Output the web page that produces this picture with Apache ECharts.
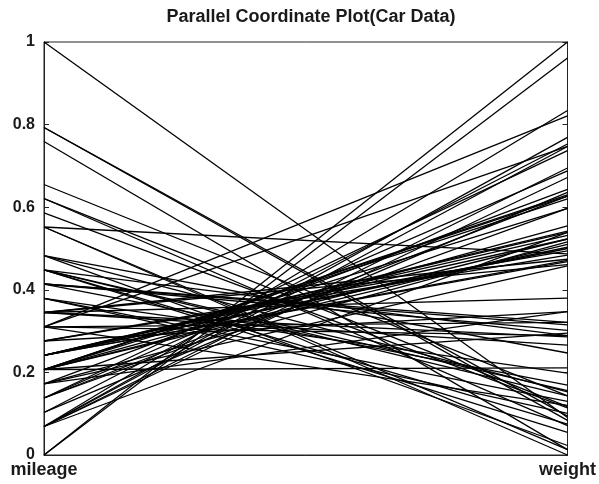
<!DOCTYPE html>
<html>
<head>
<meta charset="utf-8">
<script src="https://cdn.jsdelivr.net/npm/echarts@6/dist/echarts.min.js"></script>
<style>
  html, body { margin: 0; padding: 0; background: #fff; }
  #container { width: 599px; height: 484px; }
</style>
</head>
<body>
<div id="container"></div>
<script>
// axes of the parallel plot
var axisNames = ['mileage', 'weight'];
var yTicks = [0, 0.2, 0.4, 0.6, 0.8, 1];

// normalised mileage, one entry per car
var mileage = [
  0.345, 0.172, 0.345, 0.276, 0.103, 0.207, 0.483, 0.276, 0.138, 0.241,
  0.069, 0.069, 0.310, 0.586, 0.138, 0.345, 0.345, 0.414, 0.241, 0.621,
  0.207, 0.138, 0.172, 0.552, 0.310, 0, 0, 0.069, 0.345, 0.069,
  0.103, 0.207, 0.069, 0.276, 0.310, 0.241, 0.241, 0.207, 0.241, 0.414,
  0.138, 0.552, 0.759, 0.448, 0.483, 0.207, 0.207, 0.207, 0.241, 0.241,
  0.241, 0.414, 0.172, 0.379, 0.448, 0.379, 0.793, 0.414, 0.310, 0.310,
  0.448, 0.552, 0.621, 0.069, 0.483, 0.793, 0.207, 0.655, 0.207, 0.379,
  1, 0.448, 0.448, 0.172
];

// normalised weight, same car order
var weight = [
  0.380, 0.516, 0.286, 0.484, 0.753, 0.620, 0.153, 0.494, 0.688, 0.532,
  0.834, 0.695, 0.821, 0.114, 0.627, 0.461, 0.474, 0.321, 0.542, 0.117,
  0.597, 0.597, 0.643, 0.013, 0.289, 1, 0.961, 0.672, 0.266, 0.747,
  0.636, 0.523, 0.769, 0.347, 0.747, 0.503, 0.500, 0.627, 0.523, 0.315,
  0.737, 0.487, 0.013, 0.143, 0.247, 0.510, 0.630, 0.555, 0.471, 0.468,
  0.539, 0.302, 0.347, 0.101, 0.289, 0.198, 0.084, 0.169, 0.321, 0.120,
  0.156, 0, 0.071, 0.539, 0.023, 0.094, 0.211, 0.143, 0.295, 0.130,
  0.091, 0.055, 0.075, 0.458
];

var dom = document.getElementById('container');
var chart = echarts.init(dom);

var series = mileage.map(function (m, i) {
    return {
        type: 'line',
        data: [m, weight[i]],
        symbol: 'none',
        silent: true,
        lineStyle: { color: '#000', width: 1.3 }
    };
});

var font = 'Liberation Sans, Arial, Helvetica, sans-serif';

chart.setOption({
    animation: false,
    backgroundColor: '#fff',
    title: {
        text: 'Parallel Coordinate Plot(Car Data)',
        left: 306,
        textAlign: 'center',
        top: 3,
        textStyle: { fontFamily: font, fontSize: 18, fontWeight: 'bold', color: '#1a1a1a' }
    },
    grid: {
        left: 44, right: 31, top: 42, bottom: 29,
        show: true, borderColor: '#222', borderWidth: 1
    },
    xAxis: {
        type: 'category',
        data: axisNames,
        boundaryGap: false,
        axisLine: { lineStyle: { color: '#222' } },
        axisTick: { show: false },
        axisLabel: {
            margin: 6,
            fontFamily: font, fontSize: 18, fontWeight: 'bold', color: '#1a1a1a'
        }
    },
    yAxis: [{
        type: 'value',
        min: yTicks[0], max: yTicks[yTicks.length - 1], interval: 0.2,
        axisLine: { show: true, lineStyle: { color: '#222' } },
        axisTick: { show: true, inside: true, length: 5, lineStyle: { color: '#222' } },
        splitLine: { show: false },
        axisLabel: {
            margin: 9,
            fontFamily: font, fontSize: 16, fontWeight: 'bold', color: '#1a1a1a'
        }
    }, {
        type: 'value',
        position: 'right',
        min: yTicks[0], max: yTicks[yTicks.length - 1], interval: 0.2,
        axisLine: { show: true, lineStyle: { color: '#222' } },
        axisTick: { show: true, inside: true, length: 5, lineStyle: { color: '#222' } },
        splitLine: { show: false },
        axisLabel: { show: false }
    }],
    series: series
});
</script>
</body>
</html>
